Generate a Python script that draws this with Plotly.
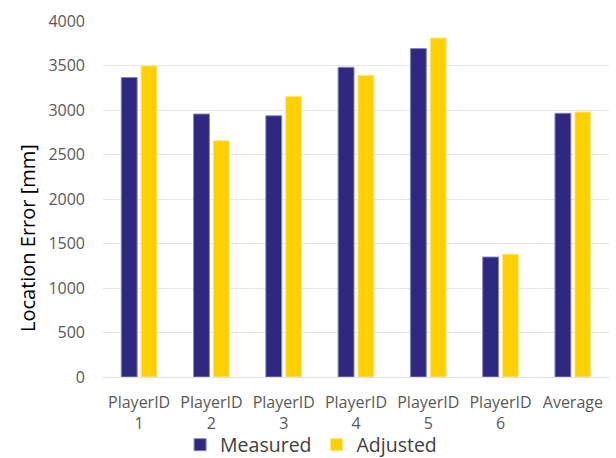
import plotly.graph_objects as go

categories = ["PlayerID<br>1", "PlayerID<br>2", "PlayerID<br>3", "PlayerID<br>4",
              "PlayerID<br>5", "PlayerID<br>6", "Average"]
measured = [3365, 2955, 2935, 3480, 3690, 1348, 2963]
adjusted = [3495, 2655, 3155, 3390, 3810, 1380, 2978]

navy = "#2E2880"
yellow = "#FFD000"

fig = go.Figure()
fig.add_trace(go.Bar(name="Measured", x=categories, y=measured,
                     marker=dict(color=navy, line=dict(color="#8A86C0", width=1))))
fig.add_trace(go.Bar(name="Adjusted", x=categories, y=adjusted,
                     marker=dict(color=yellow, line=dict(color="#FFE88A", width=1))))

font_family = "Open Sans, Noto Sans, sans-serif"
fig.update_layout(
    width=616, height=458,
    margin=dict(l=103, r=7, t=21, b=81, autoexpand=False),
    paper_bgcolor="white", plot_bgcolor="white",
    barmode="group", bargap=0.45, bargroupgap=0.2,
    font=dict(family=font_family, color="#595959", size=16),
    showlegend=True,
    legend=dict(orientation="h", xref="container", yref="paper",
                x=0.505, xanchor="center", y=(377 - 445) / 356, yanchor="middle",
                bgcolor="rgba(0,0,0,0)", borderwidth=0, tracegroupgap=0,
                font=dict(size=19.5, color="#404040"),
                traceorder="normal"),
    xaxis=dict(showgrid=False, showline=False, ticks="", automargin=False,
               ticklabelstandoff=14, tickfont=dict(size=16, color="#595959")),
    yaxis=dict(range=[0, 4000], dtick=500, showgrid=True, gridcolor="#E6E6E6", gridwidth=1,
               zeroline=True, zerolinecolor="#E0E0E0", zerolinewidth=1, automargin=False,
               ticks="", ticklabelstandoff=17, tickfont=dict(size=16, color="#595959")),
    annotations=[dict(text="Location Error [mm]", textangle=-90, showarrow=False,
                      xref="paper", yref="paper", x=(27 - 103) / 506, y=(377 - 238) / 356,
                      xanchor="center", yanchor="middle",
                      font=dict(size=20, color="#000000"))],
)
fig.write_html("out.html", config={"displayModeBar": False})

with open("out.html", "r", encoding="utf-8") as f:
    html = f.read()
html = html.replace("<head>", "<head><style>html,body{margin:0;padding:0;overflow:hidden;}</style>", 1)
with open("out.html", "w", encoding="utf-8") as f:
    f.write(html)
